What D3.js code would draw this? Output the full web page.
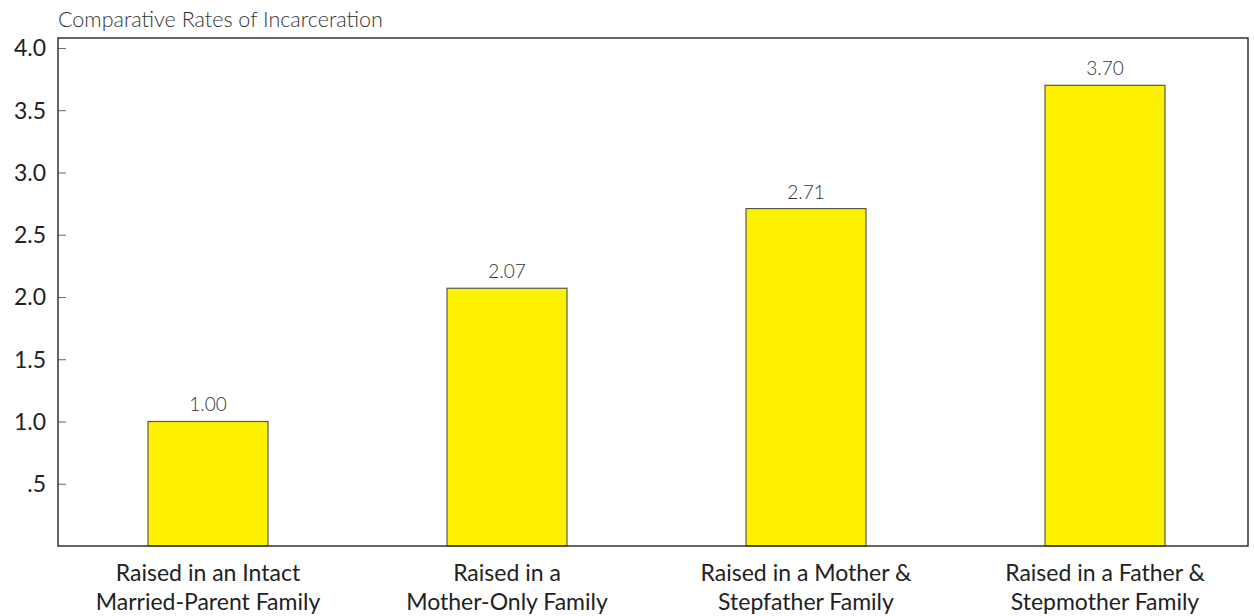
<!DOCTYPE html>
<html><head><meta charset="utf-8">
<script src="https://cdn.jsdelivr.net/npm/d3@7/dist/d3.min.js"></script>
<style>body{margin:0;background:#fff}svg{display:block}</style>
</head><body>
<svg id="c" width="1254" height="616"></svg>
<script>
const categories = [
  ["Raised in an Intact", "Married-Parent Family"],
  ["Raised in a", "Mother-Only Family"],
  ["Raised in a Mother &", "Stepfather Family"],
  ["Raised in a Father &", "Stepmother Family"]
];
const values = [1.00, 2.07, 2.71, 3.70];
const valueLabels = ["1.00", "2.07", "2.71", "3.70"];
const tickValues = [0.5, 1.0, 1.5, 2.0, 2.5, 3.0, 3.5, 4.0];
const tickLabels = [".5", "1.0", "1.5", "2.0", "2.5", "3.0", "3.5", "4.0"];
const title = "Comparative Rates of Incarceration";

const svg = d3.select("#c");
const L = 58, R = 1248, T = 38, B = 546;
const x = d3.scaleBand().domain(d3.range(values.length)).range([L, 1255]).paddingInner(0.5987).paddingOuter(0.301);
const y = d3.scaleLinear().domain([0, 4.08]).range([B, T]);

const font = "Lato, 'Open Sans', sans-serif";

// bars
svg.selectAll("rect.bar").data(values).join("rect")
  .attr("class", "bar")
  .attr("x", (d, i) => x(i)).attr("width", x.bandwidth())
  .attr("y", d => y(d)).attr("height", d => B - y(d))
  .attr("fill", "#fff200").attr("stroke", "#5a5a4a").attr("stroke-width", 1.2);

// value labels
svg.selectAll("text.val").data(values).join("text")
  .attr("class", "val")
  .attr("x", (d, i) => x(i) + x.bandwidth() / 2)
  .attr("y", d => y(d) - 10)
  .attr("text-anchor", "middle")
  .attr("font-family", font).attr("font-weight", 300).attr("font-size", 19)
  .attr("fill", "#333")
  .text((d, i) => valueLabels[i]);

// y axis
const yAxis = d3.axisRight(y).tickValues(tickValues).tickSize(8).tickFormat("");
const ga = svg.append("g").attr("transform", `translate(${L},0)`).call(yAxis);
ga.select(".domain").remove();
ga.selectAll(".tick line").attr("stroke", "#666").attr("stroke-width", 1);
svg.selectAll("text.tl").data(tickValues).join("text")
  .attr("class", "tl")
  .attr("x", L - 12).attr("y", d => y(d) + 8.5)
  .attr("text-anchor", "end")
  .attr("font-family", font).attr("font-size", 23).attr("fill", "#222")
  .text((d, i) => tickLabels[i]);

// frame
svg.append("rect").attr("x", L).attr("y", T).attr("width", R - L).attr("height", B - T)
  .attr("fill", "none").attr("stroke", "#333").attr("stroke-width", 1.5);

// category labels
const cl = svg.selectAll("text.cat").data(categories).join("text")
  .attr("class", "cat")
  .attr("text-anchor", "middle")
  .attr("font-family", font).attr("font-size", 23).attr("fill", "#222");
cl.each(function(d, i) {
  const t = d3.select(this);
  d.forEach((line, k) => {
    t.append("tspan").attr("x", x(i) + x.bandwidth() / 2).attr("y", 581 + k * 29).text(line);
  });
});

// title
svg.append("text").attr("x", 58).attr("y", 27)
  .attr("font-family", font).attr("font-weight", 300).attr("font-size", 21.5).attr("fill", "#333")
  .text(title);
</script>
</body></html>
